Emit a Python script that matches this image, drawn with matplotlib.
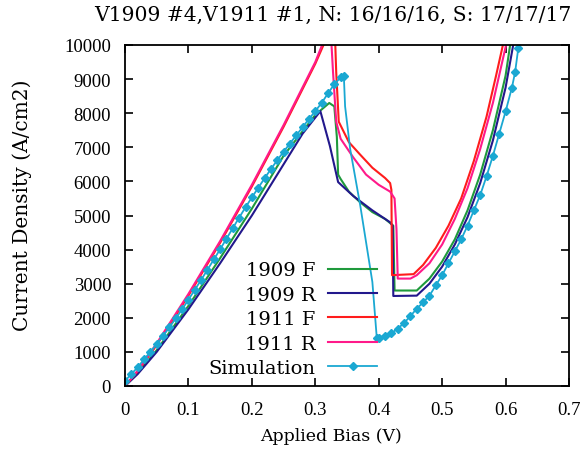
import numpy as np
import matplotlib
matplotlib.use("Agg")
import matplotlib.pyplot as plt

# --- data (V in volts, J in A/cm2) ---
v_1909f = [0.0, 0.02, 0.05, 0.10, 0.15, 0.20, 0.25, 0.30, 0.322, 0.330, 0.334, 0.336,
           0.340, 0.353, 0.370, 0.390, 0.410, 0.423, 0.425, 0.460, 0.480, 0.500,
           0.520, 0.540, 0.560, 0.580, 0.600, 0.608]
j_1909f = [0, 380, 1050, 2350, 3750, 5200, 6750, 7950, 8300, 8200, 7300, 6200,
           6070, 5700, 5400, 5100, 4900, 4700, 2800, 2800, 3150, 3650,
           4300, 5150, 6200, 7500, 9100, 10100]

v_1909r = [0.0, 0.02, 0.05, 0.10, 0.15, 0.20, 0.25, 0.28, 0.308, 0.323, 0.336,
           0.360, 0.390, 0.418, 0.422, 0.423, 0.460, 0.480, 0.500, 0.520, 0.540,
           0.560, 0.580, 0.600, 0.613]
j_1909r = [0, 350, 1000, 2250, 3600, 5000, 6500, 7400, 8060, 7040, 5980,
           5570, 5150, 4800, 4700, 2640, 2650, 3000, 3500, 4150, 4950,
           5950, 7200, 8750, 10100]

v_1911f = [0.0, 0.02, 0.05, 0.10, 0.15, 0.20, 0.25, 0.30, 0.320, 0.331, 0.333,
           0.337, 0.353, 0.370, 0.390, 0.410, 0.418, 0.420, 0.421, 0.455, 0.470,
           0.490, 0.510, 0.530, 0.550, 0.570, 0.585, 0.597]
j_1911f = [0, 430, 1200, 2650, 4200, 5850, 7600, 9450, 10300, 10300, 9200,
           7750, 7150, 6800, 6400, 6100, 5950, 5750, 3250, 3280, 3550,
           4050, 4700, 5500, 6600, 7900, 9100, 10100]

v_1911r = [0.0, 0.02, 0.05, 0.10, 0.15, 0.20, 0.25, 0.30, 0.315, 0.325, 0.328,
           0.333, 0.340, 0.360, 0.380, 0.400, 0.418, 0.425, 0.428, 0.430, 0.450,
           0.460, 0.480, 0.500, 0.520, 0.540, 0.560, 0.580, 0.602]
j_1911r = [0, 450, 1250, 2700, 4250, 5900, 7650, 9500, 10200, 10200, 9200,
           7750, 7250, 6700, 6200, 5900, 5700, 5500, 4600, 3150, 3150,
           3250, 3600, 4150, 4900, 5800, 6950, 8300, 10100]

sim_v_up = [0.00, 0.01, 0.02, 0.03, 0.04, 0.05, 0.06, 0.07, 0.08, 0.09, 0.10,
            0.11, 0.12, 0.13, 0.14, 0.15, 0.16, 0.17, 0.18, 0.19, 0.20, 0.21,
            0.22, 0.23, 0.24, 0.25, 0.26, 0.27, 0.28, 0.29, 0.30, 0.31, 0.32,
            0.33, 0.34, 0.345]
sim_j_up = [150, 350, 550, 780, 1000, 1230, 1470, 1720, 1980, 2250, 2530,
            2820, 3110, 3410, 3710, 4010, 4320, 4630, 4940, 5240, 5530, 5810,
            6090, 6360, 6620, 6870, 7110, 7350, 7590, 7830, 8060, 8300, 8580,
            8850, 9050, 9100]
sim_v_drop = [0.347, 0.355, 0.371, 0.390]
sim_j_drop = [8200, 6950, 5280, 3050]
sim_v_down = [0.397, 0.40, 0.41, 0.42, 0.43, 0.44, 0.45, 0.46, 0.47, 0.48, 0.49,
              0.50, 0.51, 0.52, 0.53, 0.54, 0.55, 0.56, 0.57, 0.58, 0.59, 0.60,
              0.61, 0.615, 0.62, 0.625]
sim_j_down = [1400, 1420, 1470, 1550, 1680, 1850, 2050, 2270, 2450, 2650, 2950,
              3250, 3600, 3950, 4300, 4700, 5150, 5600, 6150, 6750, 7400, 8050,
              8750, 9200, 9900, 10600]

labels = ["1909 F", "1909 R", "1911 F", "1911 R", "Simulation"]
colors = ["#1f9a3c", "#22188c", "#ff1c1c", "#ff1a8a", "#1aa8d2"]
title = "V1909 #4,V1911 #1, N: 16/16/16, S: 17/17/17"

TICK_FONT = "Liberation Serif"
TEXT_FONT = "DejaVu Serif"


def main() -> None:
    plt.rcParams["font.family"] = [TICK_FONT, "DejaVu Serif"]
    fig = plt.figure(figsize=(5.81, 4.52), dpi=100)
    ax = fig.add_axes([125 / 581, 65 / 452, 444 / 581, 341 / 452])

    exp = [(v_1909f, j_1909f), (v_1909r, j_1909r),
           (v_1911f, j_1911f), (v_1911r, j_1911r)]
    for (v, j), lab, c in zip(exp, labels[:4], colors[:4]):
        ax.plot(v, j, color=c, lw=1.5, label=lab)

    sim_v = sim_v_up + sim_v_drop + sim_v_down
    sim_j = sim_j_up + sim_j_drop + sim_j_down
    n_up, n_drop = len(sim_v_up), len(sim_v_drop)
    marks = [i for i in range(len(sim_v)) if not (n_up <= i < n_up + n_drop)]
    ax.plot(sim_v, sim_j, color=colors[4], lw=1.3, marker="D", ms=4,
            markevery=marks, label=labels[4])

    ax.set_xlim(0, 0.7)
    ax.set_ylim(0, 10000)
    ax.set_xticks(np.arange(0, 0.71, 0.1))
    ax.set_xticklabels(["0", "0.1", "0.2", "0.3", "0.4", "0.5", "0.6", "0.7"])
    ax.set_yticks(np.arange(0, 10001, 1000))
    ax.tick_params(direction="in", length=6, width=1.2, top=True, right=True,
                   labelsize=13.5)
    ax.tick_params(axis="x", pad=11)
    ax.tick_params(axis="y", pad=10)
    for s in ax.spines.values():
        s.set_linewidth(1.3)

    fig.text(333 / 581, 1 - 15 / 452, title, ha="center", va="center",
             fontsize=14.6, family=TEXT_FONT)
    fig.text(331 / 581, 1 - 437 / 452, "Applied Bias (V)", ha="center",
             va="center", fontsize=12.5, family=TEXT_FONT)
    fig.text(22 / 581, 1 - 205 / 452, "Current Density (A/cm2)", ha="center",
             va="center", rotation=90, fontsize=14.5, family=TEXT_FONT)

    ax.legend(loc="lower right", bbox_to_anchor=(377 / 581, 1 - 378 / 452),
              bbox_transform=fig.transFigure, frameon=False, markerfirst=False,
              prop={"family": TEXT_FONT, "size": 14}, handlelength=2.5,
              handletextpad=0.65, labelspacing=0.33, borderpad=0,
              borderaxespad=0, numpoints=1)

    fig.savefig("out.png", dpi=100)


if __name__ == "__main__":
    main()
